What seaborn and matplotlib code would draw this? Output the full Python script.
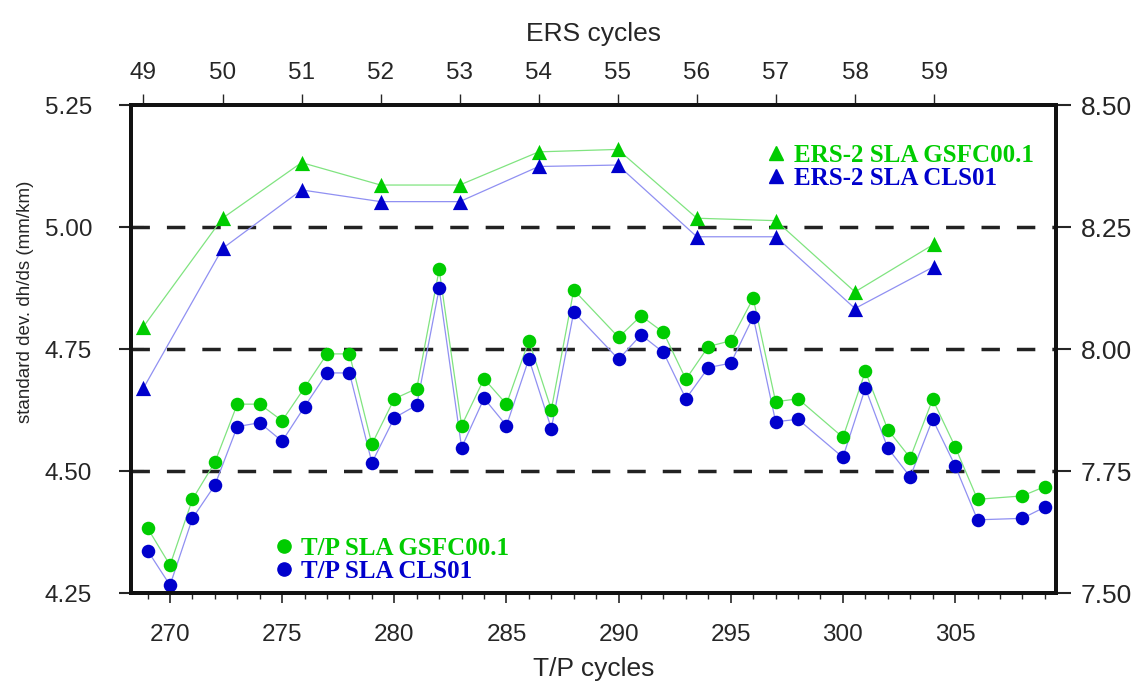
import matplotlib
matplotlib.use("Agg")
import matplotlib.pyplot as plt
import seaborn as sns
from matplotlib.lines import Line2D
from matplotlib.ticker import MultipleLocator, FormatStrFormatter

# T/P cycles (some cycles missing)
tp_cycles = [269, 270, 271, 272, 273, 274, 275, 276, 277, 278, 279, 280, 281, 282,
             283, 284, 285, 286, 287, 288, 290, 291, 292, 293, 294, 295, 296, 297,
             298, 300, 301, 302, 303, 304, 305, 306, 308, 309]
tp_gsfc = [4.383, 4.307, 4.442, 4.518, 4.637, 4.637, 4.603, 4.671, 4.740, 4.740,
           4.555, 4.648, 4.669, 4.913, 4.593, 4.689, 4.637, 4.767, 4.626, 4.871,
           4.774, 4.818, 4.784, 4.688, 4.755, 4.767, 4.854, 4.642, 4.648,
           4.569, 4.704, 4.585, 4.527, 4.647, 4.550, 4.442, 4.449, 4.468]
tp_cls = [4.337, 4.266, 4.403, 4.471, 4.591, 4.599, 4.561, 4.632, 4.701, 4.701,
          4.517, 4.609, 4.635, 4.874, 4.548, 4.649, 4.593, 4.730, 4.587, 4.826,
          4.729, 4.779, 4.743, 4.648, 4.712, 4.721, 4.816, 4.601, 4.606,
          4.528, 4.670, 4.547, 4.488, 4.606, 4.511, 4.400, 4.403, 4.426]

# ERS cycles
ers_cycles = [49, 50, 51, 52, 53, 54, 55, 56, 57, 58, 59]
ers_gsfc = [4.796, 5.018, 5.132, 5.086, 5.086, 5.154, 5.159, 5.018, 5.013, 4.867, 4.965]
ers_cls = [4.670, 4.956, 5.076, 5.052, 5.052, 5.124, 5.127, 4.980, 4.980, 4.833, 4.919]

GREEN = "#00cc00"
BLUE = "#0000cc"
GREEN_LINE = "#80e480"
BLUE_LINE = "#9090f2"

sns.set_style("ticks")
plt.rcParams["font.family"] = ["Liberation Sans", "DejaVu Sans"]

fig = plt.figure(figsize=(11.42, 6.89), dpi=100)
ax = fig.add_axes([0.1147, 0.1393, 0.81, 0.7083])

ax.set_xlim(268.26, 309.5)
ax.set_ylim(4.25, 5.25)

for yv in [4.5, 4.75, 5.0]:
    ax.axhline(yv, color="#222222", lw=2.5, dashes=(5.3, 4.9), zorder=1)

# T/P series
sns.lineplot(x=tp_cycles, y=tp_gsfc, ax=ax, color=GREEN_LINE, lw=0.9,
             errorbar=None, sort=False, zorder=2)
sns.lineplot(x=tp_cycles, y=tp_cls, ax=ax, color=BLUE_LINE, lw=0.9,
             errorbar=None, sort=False, zorder=2)
sns.scatterplot(x=tp_cycles, y=tp_gsfc, ax=ax, color=GREEN, marker="o",
                s=95, linewidth=0, zorder=3)
sns.scatterplot(x=tp_cycles, y=tp_cls, ax=ax, color=BLUE, marker="o",
                s=95, linewidth=0, zorder=3)

ax.xaxis.set_major_locator(MultipleLocator(5))
ax.xaxis.set_minor_locator(MultipleLocator(1))
ax.yaxis.set_major_locator(MultipleLocator(0.25))
ax.yaxis.set_major_formatter(FormatStrFormatter("%.2f"))
ax.tick_params(axis="x", which="major", direction="out", length=7, width=1.2,
               labelsize=17.5, pad=15, top=False)
ax.tick_params(axis="x", which="minor", direction="out", length=4, width=1.0, top=False)
ax.tick_params(axis="y", direction="inout", length=18, width=1.5, labelsize=17.5,
               pad=19, right=False)
ax.set_xlabel("T/P cycles", fontsize=19, labelpad=8)
ax.set_ylabel("standard dev. dh/ds (mm/km)", fontsize=13.5)
ax.yaxis.set_label_coords(-0.105, 0.596)

for sp in ax.spines.values():
    sp.set_linewidth(2.6)
    sp.set_color("#111111")

# right axis (same scale shifted by 3.25)
ax_r = ax.twinx()
ax_r.set_ylim(4.25 + 3.25, 5.25 + 3.25)
ax_r.yaxis.set_major_locator(MultipleLocator(0.25))
ax_r.yaxis.set_major_formatter(FormatStrFormatter("%.2f"))
ax_r.tick_params(axis="y", direction="out", length=11, width=1.5, labelsize=19, pad=7)
for sp in ax_r.spines.values():
    sp.set_linewidth(2.6)
    sp.set_color("#111111")

# top axis with ERS cycles
ax2 = ax.twiny()
ax2.set_xlim(48.842, 60.543)
ax2.set_xticks(ers_cycles)
ax2.tick_params(axis="x", direction="out", length=8, width=1.0, labelsize=17.5, pad=7)
ax2.set_xlabel("ERS cycles", fontsize=19, labelpad=15)
for sp in ax2.spines.values():
    sp.set_linewidth(2.6)
    sp.set_color("#111111")

sns.lineplot(x=ers_cycles, y=ers_gsfc, ax=ax2, color=GREEN_LINE, lw=0.9,
             errorbar=None, sort=False, zorder=2)
sns.lineplot(x=ers_cycles, y=ers_cls, ax=ax2, color=BLUE_LINE, lw=0.9,
             errorbar=None, sort=False, zorder=2)
sns.scatterplot(x=ers_cycles, y=ers_gsfc, ax=ax2, color=GREEN, marker="^",
                s=120, linewidth=0, zorder=3)
sns.scatterplot(x=ers_cycles, y=ers_cls, ax=ax2, color=BLUE, marker="^",
                s=120, linewidth=0, zorder=3)
ax2.set_ylim(4.25, 5.25)
ax2.yaxis.set_visible(False)

legend_font = {"family": "Liberation Serif", "weight": "bold", "size": 18}

ers_handles = [Line2D([], [], ls="none", marker="^", ms=10, color=GREEN),
               Line2D([], [], ls="none", marker="^", ms=10, color=BLUE)]
leg1 = ax2.legend(ers_handles, ["ERS-2 SLA GSFC00.1", "ERS-2 SLA CLS01"],
                  loc="upper left", bbox_to_anchor=(0.673, 0.946), frameon=False,
                  prop=legend_font, labelcolor=[GREEN, BLUE], borderpad=0,
                  handlelength=0.8, handletextpad=0.3, labelspacing=0.0)
ax2.add_artist(leg1)

tp_handles = [Line2D([], [], ls="none", marker="o", ms=9.5, color=GREEN),
              Line2D([], [], ls="none", marker="o", ms=9.5, color=BLUE)]
ax2.legend(tp_handles, ["T/P SLA GSFC00.1", "T/P SLA CLS01"],
           loc="upper left", bbox_to_anchor=(0.141, 0.141), frameon=False,
           prop=legend_font, labelcolor=[GREEN, BLUE], borderpad=0,
           handlelength=0.8, handletextpad=0.3, labelspacing=0.0)

fig.savefig("out.png", dpi=100)
